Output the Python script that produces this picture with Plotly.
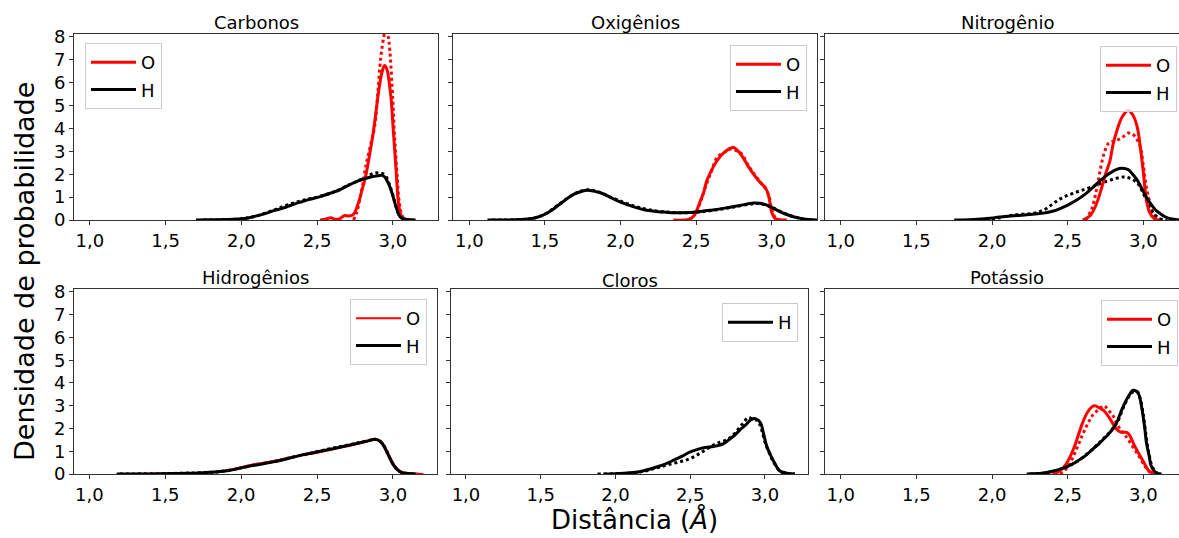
import plotly.graph_objects as go

# ---------------- data ----------------
titles = ["Carbonos", "Oxigênios", "Nitrogênio", "Hidrogênios", "Cloros", "Potássio"]
x_tickvals = [1.0, 1.5, 2.0, 2.5, 3.0]
x_ticktext = ["1,0", "1,5", "2,0", "2,5", "3,0"]
y_tickvals = [0, 1, 2, 3, 4, 5, 6, 7, 8]
y_ticktext = ["0", "1", "2", "3", "4", "5", "6", "7", "8"]

# Carbonos
carb_O_x = [2.52, 2.56, 2.59, 2.62, 2.65, 2.68, 2.71, 2.74, 2.77, 2.80, 2.82, 2.85, 2.87, 2.89, 2.91, 2.93, 2.945, 2.96, 2.98, 2.99, 3.00, 3.02, 3.04, 3.06, 3.08]
carb_O_y = [0, 0.05, 0.1, 0.03, 0.06, 0.2, 0.17, 0.25, 0.7, 1.4, 1.9, 3.0, 3.8, 4.8, 5.8, 6.5, 6.75, 6.6, 5.8, 5.2, 4.2, 2.3, 0.6, 0.1, 0]
carb_Od_x = [2.74, 2.76, 2.78, 2.80, 2.82, 2.85, 2.88, 2.90, 2.92, 2.94, 2.955, 2.97, 2.98, 3.00, 3.01, 3.03, 3.04, 3.06, 3.08]
carb_Od_y = [0, 0.3, 0.85, 1.5, 2.3, 3.2, 4.1, 5.5, 7.1, 8.0, 8.4, 8.0, 7.4, 5.2, 3.8, 1.8, 0.9, 0.2, 0]
carb_H_x = [1.70, 1.80, 1.90, 2.00, 2.05, 2.10, 2.16, 2.22, 2.27, 2.35, 2.40, 2.45, 2.52, 2.60, 2.65, 2.69, 2.75, 2.80, 2.85, 2.90, 2.93, 2.95, 2.97, 2.98, 3.00, 3.02, 3.04, 3.06, 3.10, 3.15]
carb_H_y = [0, 0.01, 0.02, 0.05, 0.1, 0.18, 0.29, 0.42, 0.51, 0.7, 0.8, 0.9, 1.02, 1.2, 1.32, 1.46, 1.65, 1.78, 1.87, 1.93, 1.95, 1.85, 1.6, 1.45, 1.05, 0.6, 0.22, 0.08, 0.02, 0]
carb_Hd_x = [1.75, 2.00, 2.10, 2.20, 2.30, 2.40, 2.50, 2.60, 2.70, 2.80, 2.88, 2.92, 2.95, 2.98, 3.00, 3.02, 3.04, 3.06, 3.10]
carb_Hd_y = [0, 0.05, 0.18, 0.4, 0.65, 0.85, 1.0, 1.2, 1.5, 1.8, 2.05, 2.05, 1.95, 1.5, 1.1, 0.6, 0.25, 0.08, 0]

# Oxigenios
oxi_O_x = [2.35, 2.45, 2.48, 2.50, 2.53, 2.55, 2.57, 2.60, 2.64, 2.67, 2.70, 2.73, 2.75, 2.78, 2.81, 2.84, 2.88, 2.91, 2.93, 2.96, 2.98, 2.99, 3.00, 3.02, 3.05, 3.10]
oxi_O_y = [0, 0.02, 0.14, 0.35, 0.86, 1.2, 1.7, 2.15, 2.6, 2.85, 3.03, 3.15, 3.17, 3.0, 2.74, 2.4, 2.0, 1.75, 1.6, 1.4, 1.05, 0.7, 0.35, 0.08, 0.01, 0]
oxi_Od_x = [2.45, 2.50, 2.53, 2.56, 2.60, 2.64, 2.67, 2.70, 2.73, 2.76, 2.80, 2.84, 2.88, 2.92, 2.95, 2.98, 3.00, 3.03, 3.06]
oxi_Od_y = [0, 0.3, 0.8, 1.4, 2.1, 2.75, 2.9, 3.0, 3.1, 3.05, 2.9, 2.45, 2.05, 1.7, 1.45, 1.1, 0.5, 0.05, 0]
oxi_H_x = [1.12, 1.30, 1.40, 1.45, 1.50, 1.55, 1.60, 1.65, 1.70, 1.75, 1.78, 1.82, 1.86, 1.90, 1.95, 2.00, 2.05, 2.10, 2.15, 2.20, 2.25, 2.30, 2.35, 2.40, 2.50, 2.60, 2.70, 2.80, 2.88, 2.92, 2.96, 3.00, 3.05, 3.10, 3.15, 3.20, 3.25, 3.30]
oxi_H_y = [0, 0.01, 0.05, 0.12, 0.25, 0.45, 0.7, 0.95, 1.15, 1.27, 1.3, 1.27, 1.2, 1.1, 0.93, 0.78, 0.66, 0.55, 0.46, 0.4, 0.36, 0.34, 0.32, 0.32, 0.35, 0.43, 0.53, 0.65, 0.74, 0.73, 0.67, 0.55, 0.38, 0.24, 0.13, 0.06, 0.02, 0]
oxi_Hd_x = [1.15, 1.40, 1.50, 1.60, 1.70, 1.78, 1.85, 1.95, 2.05, 2.15, 2.25, 2.35, 2.45, 2.55, 2.65, 2.75, 2.85, 2.90, 2.95, 3.00, 3.10, 3.20, 3.28]
oxi_Hd_y = [0, 0.05, 0.26, 0.72, 1.16, 1.32, 1.24, 0.96, 0.7, 0.5, 0.38, 0.33, 0.32, 0.37, 0.46, 0.57, 0.69, 0.72, 0.68, 0.56, 0.25, 0.06, 0]

# Nitrogenio
nit_O_x = [2.60, 2.65, 2.69, 2.72, 2.75, 2.78, 2.80, 2.83, 2.86, 2.90, 2.93, 2.96, 2.98, 3.00, 3.02, 3.04, 3.07, 3.10]
nit_O_y = [0, 0.2, 0.7, 1.3, 2.0, 2.6, 3.3, 4.0, 4.5, 4.8, 4.6, 4.06, 3.2, 2.1, 0.9, 0.35, 0.07, 0]
nit_Od_x = [2.62, 2.66, 2.69, 2.71, 2.74, 2.77, 2.80, 2.83, 2.86, 2.90, 2.93, 2.96, 2.98, 3.00, 3.02, 3.05, 3.07, 3.10, 3.12]
nit_Od_y = [0, 0.5, 1.3, 2.0, 2.9, 3.35, 3.45, 3.5, 3.6, 3.8, 3.75, 3.5, 3.2, 2.4, 1.45, 0.6, 0.25, 0.05, 0]
nit_H_x = [1.75, 1.85, 1.95, 2.00, 2.05, 2.12, 2.20, 2.28, 2.34, 2.40, 2.45, 2.50, 2.56, 2.62, 2.67, 2.72, 2.78, 2.82, 2.86, 2.90, 2.93, 2.96, 2.99, 3.02, 3.05, 3.08, 3.11, 3.15, 3.20, 3.25]
nit_H_y = [0, 0.01, 0.05, 0.09, 0.13, 0.17, 0.21, 0.26, 0.3, 0.38, 0.5, 0.65, 0.87, 1.15, 1.45, 1.75, 2.05, 2.2, 2.26, 2.2, 2.0, 1.74, 1.38, 1.0, 0.7, 0.45, 0.29, 0.12, 0.03, 0]
nit_Hd_x = [2.00, 2.05, 2.12, 2.20, 2.28, 2.32, 2.36, 2.40, 2.44, 2.48, 2.53, 2.58, 2.64, 2.70, 2.76, 2.82, 2.87, 2.91, 2.96, 2.99, 3.02, 3.05, 3.09, 3.13, 3.16]
nit_Hd_y = [0, 0.1, 0.2, 0.25, 0.3, 0.38, 0.5, 0.7, 0.88, 1.02, 1.15, 1.27, 1.4, 1.55, 1.7, 1.82, 1.88, 1.83, 1.62, 1.3, 0.87, 0.45, 0.14, 0.02, 0]

# Hidrogenios
hid_O_x = [1.25, 1.50, 1.65, 1.80, 1.90, 2.00, 2.10, 2.20, 2.30, 2.40, 2.50, 2.60, 2.70, 2.80, 2.88, 2.92, 2.95, 2.98, 3.01, 3.05, 3.10, 3.20]
hid_O_y = [0, 0.02, 0.04, 0.08, 0.15, 0.3, 0.45, 0.55, 0.7, 0.82, 0.93, 1.08, 1.22, 1.37, 1.5, 1.45, 1.15, 0.75, 0.38, 0.12, 0.04, 0]
hid_H_x = [1.18, 1.40, 1.55, 1.65, 1.75, 1.85, 1.92, 2.00, 2.05, 2.10, 2.17, 2.25, 2.32, 2.39, 2.45, 2.52, 2.61, 2.70, 2.78, 2.83, 2.87, 2.90, 2.93, 2.95, 2.98, 3.00, 3.03, 3.06, 3.10, 3.15]
hid_H_y = [0, 0.005, 0.02, 0.03, 0.06, 0.1, 0.15, 0.27, 0.34, 0.4, 0.48, 0.58, 0.7, 0.82, 0.9, 1.0, 1.12, 1.25, 1.37, 1.45, 1.52, 1.5, 1.33, 1.1, 0.68, 0.42, 0.18, 0.06, 0.02, 0]
hid_Hd_x = [1.20, 1.50, 1.70, 1.85, 1.95, 2.05, 2.15, 2.25, 2.35, 2.45, 2.55, 2.65, 2.75, 2.85, 2.89, 2.93, 2.96, 3.00, 3.04, 3.10, 3.16]
hid_Hd_y = [0, 0.02, 0.05, 0.1, 0.2, 0.35, 0.47, 0.6, 0.76, 0.9, 1.06, 1.2, 1.34, 1.48, 1.52, 1.35, 1.0, 0.45, 0.12, 0.02, 0]

# Cloros
clo_H_x = [1.92, 2.00, 2.10, 2.16, 2.22, 2.28, 2.34, 2.39, 2.45, 2.50, 2.55, 2.59, 2.64, 2.68, 2.72, 2.77, 2.80, 2.83, 2.87, 2.90, 2.92, 2.94, 2.97, 2.99, 3.01, 3.04, 3.06, 3.08, 3.10, 3.14, 3.18, 3.20]
clo_H_y = [0, 0.01, 0.05, 0.1, 0.2, 0.32, 0.46, 0.61, 0.8, 0.97, 1.08, 1.15, 1.2, 1.24, 1.32, 1.56, 1.72, 1.92, 2.15, 2.35, 2.43, 2.42, 2.25, 1.8, 1.26, 0.8, 0.54, 0.3, 0.13, 0.05, 0.01, 0]
clo_Hd_x = [1.88, 2.00, 2.15, 2.25, 2.32, 2.39, 2.45, 2.50, 2.55, 2.60, 2.65, 2.70, 2.75, 2.80, 2.85, 2.89, 2.92, 2.95, 2.98, 3.00, 3.03, 3.06, 3.10, 3.15, 3.20]
clo_Hd_y = [0, 0.01, 0.07, 0.22, 0.35, 0.47, 0.57, 0.68, 0.85, 1.05, 1.25, 1.4, 1.52, 1.8, 2.2, 2.48, 2.4, 2.35, 1.9, 1.4, 0.9, 0.5, 0.13, 0.02, 0]

# Potassio
pot_O_x = [2.40, 2.44, 2.47, 2.50, 2.54, 2.57, 2.60, 2.63, 2.66, 2.68, 2.71, 2.74, 2.78, 2.82, 2.85, 2.89, 2.91, 2.94, 2.97, 3.00, 3.02, 3.04, 3.07, 3.09]
pot_O_y = [0, 0.1, 0.26, 0.55, 1.12, 1.7, 2.27, 2.7, 2.95, 3.0, 2.9, 2.78, 2.42, 1.99, 1.84, 1.83, 1.7, 1.27, 0.9, 0.55, 0.3, 0.12, 0.02, 0]
pot_Od_x = [2.45, 2.50, 2.56, 2.60, 2.64, 2.67, 2.70, 2.74, 2.77, 2.80, 2.82, 2.85, 2.88, 2.91, 2.95, 2.98, 3.01, 3.04, 3.07]
pot_Od_y = [0, 0.3, 1.12, 1.75, 2.3, 2.63, 2.8, 3.0, 2.8, 2.56, 2.27, 1.95, 1.7, 1.41, 1.0, 0.69, 0.35, 0.1, 0]
pot_H_x = [2.23, 2.30, 2.34, 2.40, 2.47, 2.52, 2.56, 2.62, 2.67, 2.71, 2.74, 2.77, 2.80, 2.83, 2.85, 2.87, 2.89, 2.91, 2.93, 2.95, 2.97, 2.99, 3.01, 3.02, 3.04, 3.05, 3.07, 3.09, 3.12]
pot_H_y = [0, 0.02, 0.04, 0.12, 0.26, 0.4, 0.55, 0.82, 1.12, 1.35, 1.55, 1.75, 1.99, 2.35, 2.7, 3.0, 3.28, 3.5, 3.67, 3.65, 3.5, 2.9, 2.0, 1.41, 0.75, 0.4, 0.15, 0.04, 0]
pot_Hd_x = [2.25, 2.35, 2.45, 2.55, 2.65, 2.72, 2.78, 2.83, 2.87, 2.90, 2.93, 2.96, 2.98, 3.00, 3.02, 3.04, 3.06, 3.09, 3.12]
pot_Hd_y = [0, 0.05, 0.2, 0.5, 1.0, 1.45, 1.85, 2.3, 2.95, 3.35, 3.6, 3.62, 3.3, 2.6, 1.6, 0.8, 0.3, 0.05, 0]

RED = "#ff0000"
BLACK = "#000000"
FONT = "DejaVu Sans"

panels = [
    # (solid O, dotted O, solid H, dotted H)
    ((carb_O_x, carb_O_y), (carb_Od_x, carb_Od_y), (carb_H_x, carb_H_y), (carb_Hd_x, carb_Hd_y)),
    ((oxi_O_x, oxi_O_y), (oxi_Od_x, oxi_Od_y), (oxi_H_x, oxi_H_y), (oxi_Hd_x, oxi_Hd_y)),
    ((nit_O_x, nit_O_y), (nit_Od_x, nit_Od_y), (nit_H_x, nit_H_y), (nit_Hd_x, nit_Hd_y)),
    ((hid_O_x, hid_O_y), None, (hid_H_x, hid_H_y), (hid_Hd_x, hid_Hd_y)),
    (None, None, (clo_H_x, clo_H_y), (clo_Hd_x, clo_Hd_y)),
    ((pot_O_x, pot_O_y), (pot_Od_x, pot_Od_y), (pot_H_x, pot_H_y), (pot_Hd_x, pot_Hd_y)),
]

W, H = 1179, 538
# pixel boxes: (left, right, top, bottom)
boxes = [
    (74, 438, 34, 220),
    (453, 817, 34, 220),
    (825, 1179, 34, 220),
    (74, 437, 289, 474),
    (451, 808, 289, 474),
    (825, 1179, 289, 474),
]
xranges = [
    [0.895, 3.298], [0.892, 3.30], [0.896, 3.236],
    [0.899, 3.29], [0.90, 3.288], [0.896, 3.236],
]
title_pos = [(256, 22), (635, 22), (1007, 22), (255, 277), (630, 280), (1007, 277)]
legend_pos = [  # (x px, y px, xanchor)
    (85, 43, "left"), (807, 45, "right"), (1177, 46, "right"),
    (427, 299, "right"), (798, 303, "right"), (1178, 300, "right"),
]

fig = go.Figure()
layout = {}
annotations = []
for i, (so, do, sh, dh) in enumerate(panels):
    n = i + 1
    xa = "x" if n == 1 else f"x{n}"
    ya = "y" if n == 1 else f"y{n}"
    lg = "legend" if n == 1 else f"legend{n}"
    red_w = 2 if i == 3 else 3
    if do is not None:
        fig.add_trace(go.Scatter(x=do[0], y=do[1], mode="lines", xaxis=xa, yaxis=ya,
                                 line=dict(color=RED, width=3, dash="dot", shape="spline"),
                                 showlegend=False, hoverinfo="skip"))
    if dh is not None:
        fig.add_trace(go.Scatter(x=dh[0], y=dh[1], mode="lines", xaxis=xa, yaxis=ya,
                                 line=dict(color=BLACK, width=3, dash="dot", shape="spline"),
                                 showlegend=False, hoverinfo="skip"))
    if so is not None:
        fig.add_trace(go.Scatter(x=so[0], y=so[1], mode="lines", name="O", xaxis=xa, yaxis=ya,
                                 line=dict(color=RED, width=red_w, shape="spline"), legend=lg,
                                 legendgroup=f"O{n}"))
    fig.add_trace(go.Scatter(x=sh[0], y=sh[1], mode="lines", name="H", xaxis=xa, yaxis=ya,
                             line=dict(color=BLACK, width=3, shape="spline"), legend=lg,
                             legendgroup=f"H{n}"))

    l, r, t, b = boxes[i]
    xkey = "xaxis" if n == 1 else f"xaxis{n}"
    ykey = "yaxis" if n == 1 else f"yaxis{n}"
    layout[xkey] = dict(domain=[l / W, r / W], anchor=ya, range=xranges[i], automargin=False,
                        tickvals=x_tickvals, ticktext=x_ticktext, ticks="outside",
                        ticklen=4, tickcolor="#333", showline=True, mirror=True,
                        linecolor="#333", linewidth=1, showgrid=False, zeroline=False,
                        tickfont=dict(family=FONT, size=18, color="black"))
    layout[ykey] = dict(domain=[1 - b / H, 1 - t / H], anchor=xa, range=[0, 8.13], automargin=False,
                        tickvals=y_tickvals, ticktext=y_ticktext, ticks="outside",
                        ticklen=4, tickcolor="#333", showline=True, mirror=True,
                        linecolor="#333", linewidth=1, showgrid=False, zeroline=False,
                        showticklabels=(i in (0, 3)),
                        tickfont=dict(family=FONT, size=18, color="black"))
    lx, ly, lanchor = legend_pos[i]
    layout[lg] = dict(x=lx / W, y=1 - ly / H, xanchor=lanchor, yanchor="top",
                      xref="paper", yref="paper", itemwidth=45,
                      bgcolor="rgba(255,255,255,0.8)", bordercolor="#cccccc", borderwidth=1,
                      font=dict(family=FONT, size=18, color="black"),
                      tracegroupgap=1)
    tx, ty = title_pos[i]
    annotations.append(dict(text=titles[i], x=tx / W, y=1 - ty / H, xref="paper", yref="paper",
                            showarrow=False, xanchor="center", yanchor="middle",
                            font=dict(family=FONT, size=18, color="black")))

annotations.append(dict(text="Distância (<i>Å</i>)", x=634 / W, y=0.002, xref="paper", yref="paper",
                        showarrow=False, xanchor="center", yanchor="bottom",
                        font=dict(family=FONT, size=26, color="black")))
annotations.append(dict(text="Densidade de probabilidade", x=24 / W, y=1 - 272 / H, xref="paper",
                        yref="paper", showarrow=False, textangle=-90, xanchor="center",
                        yanchor="middle", font=dict(family=FONT, size=27, color="black")))

fig.update_layout(width=W, height=H, margin=dict(l=0, r=0, t=0, b=0, pad=0, autoexpand=False),
                  paper_bgcolor="white", plot_bgcolor="white",
                  annotations=annotations, **layout)
fig.write_html("out.html", config={"displayModeBar": False},
               post_script="document.body.style.margin='0';document.body.style.overflow='hidden';")
